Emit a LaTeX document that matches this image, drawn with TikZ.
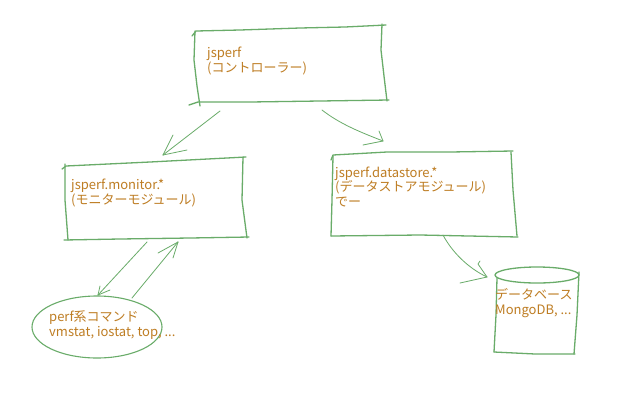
\documentclass[tikz,border=0pt]{standalone}
\usepackage{fontspec}
\setmainfont{Noto Sans CJK JP}
\usetikzlibrary{arrows.meta}
\definecolor{pen}{RGB}{105,172,105}
\definecolor{ink}{RGB}{190,125,35}
\begin{document}
\begin{tikzpicture}[x=1pt,y=-1pt,
  sketch/.style={draw=pen, line width=1.3pt, line cap=round, line join=round},
  thinpen/.style={draw=pen, line width=0.8pt, line cap=round, line join=round},
  label/.style={text=ink, font=\fontsize{13}{14.5}\selectfont, align=left, anchor=base west, inner sep=0pt}]
\fill[white] (0,0) rectangle (640,400);

% ---------- controller box ----------
\draw[sketch] (192,36) -- (196,31) -- (240,30) -- (300,28) -- (345,27) -- (386,25);
\draw[sketch] (382,24) -- (381,50) -- (384,76) -- (387,101);
\draw[sketch] (189,105) -- (198,102) -- (250,102) -- (320,101) -- (389,100);
\draw[sketch] (195,31) -- (194,60) -- (197,86) -- (200,106);
\node[label] (ctrl) at (207,72) {jsperf\\(コントローラー)};

% ---------- monitor box ----------
\draw[sketch] (62,169) -- (66,166) -- (150,162) -- (246,157);
\draw[sketch] (243,157) -- (242,200) -- (247,238);
\draw[sketch] (64,240) -- (120,239) -- (190,238) -- (249,237);
\draw[sketch] (65,164) -- (65,200) -- (68,240);
\node[label] (mon) at (71,204) {jsperf.monitor.*\\(モニターモジュール)};

% ---------- datastore box ----------
\draw[sketch] (331,160) -- (333,155) -- (387,152) -- (450,152) -- (513,151);
\draw[sketch] (511,152) -- (513,190) -- (517,236);
\draw[sketch] (331,236) -- (420,235) -- (518,237);
\draw[sketch] (333,156) -- (332,200) -- (331,236);
\node[label] (ds) at (335,206) {jsperf.datastore.*\\(データストアモジュール)\\でー};

% ---------- perf ellipse ----------
\draw[sketch, line width=1.1pt] (97,327) ellipse [x radius=65, y radius=31];
\node[label] (perf) at (49,336) {perf系コマンド\\vmstat, iostat, top, ...};

% ---------- database cylinder ----------
\draw[sketch] (537,275) ellipse [x radius=42, y radius=8];
\draw[sketch] (497,278) -- (496,315) -- (494,352);
\draw[sketch] (579,272) -- (577,315) -- (574,354);
\draw[sketch] (494,352) -- (535,354) -- (575,354);
\node[label] (db) at (495,314) {データベース\\MongoDB, ...};

% ---------- arrows ----------
\coordinate (a1s) at (220,111); \coordinate (a1e) at (163,155);
\draw[thinpen] (a1s) -- (a1e);
\draw[thinpen] (a1e) -- (173,135);
\draw[thinpen] (a1e) -- (187,150);

\coordinate (a2s) at (322,110); \coordinate (a2e) at (383,141);
\draw[thinpen] (a2s) .. controls (340,124) and (360,132) .. (a2e);
\draw[thinpen] (a2e) -- (379,131);
\draw[thinpen] (a2e) -- (363,145);

\coordinate (a3s) at (147,242); \coordinate (a3e) at (98,295);
\draw[thinpen] (a3s) -- (a3e);
\draw[thinpen] (a3e) -- (100,286);
\draw[thinpen] (a3e) -- (110,290);

\coordinate (a4s) at (132,298); \coordinate (a4e) at (178,242);
\draw[thinpen] (a4s) -- (a4e);
\draw[thinpen] (a4e) -- (158,253);
\draw[thinpen] (a4e) -- (173,258);

\coordinate (a5s) at (443,235); \coordinate (a5e) at (487,277);
\draw[thinpen] (a5s) .. controls (452,252) and (468,268) .. (a5e);
\draw[thinpen] (a5e) -- (478,264) -- (480,261);
\draw[thinpen] (a5e) -- (460,283);
\end{tikzpicture}
\end{document}
